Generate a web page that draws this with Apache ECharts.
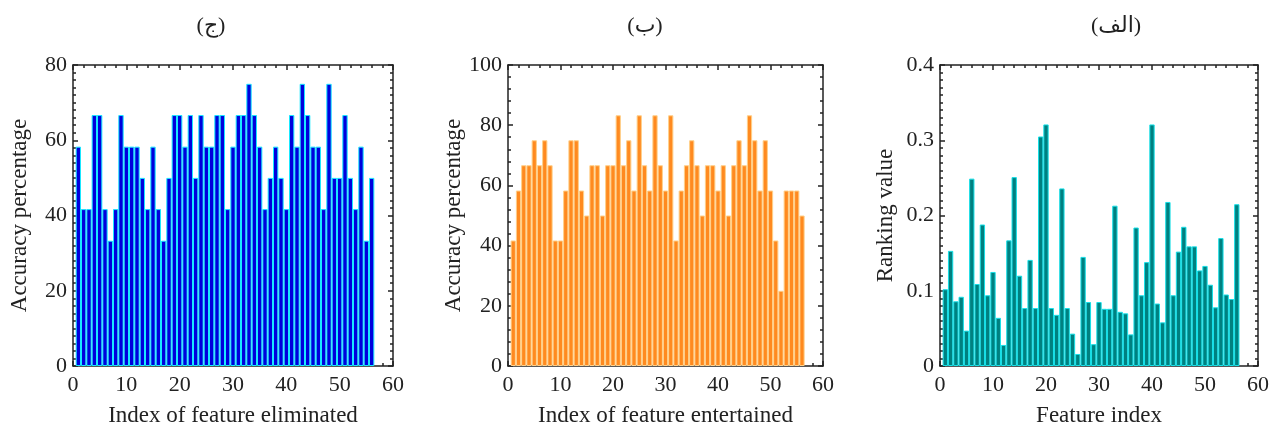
<!DOCTYPE html>
<html>
<head>
<meta charset="utf-8">
<script src="https://cdn.jsdelivr.net/npm/echarts@6/dist/echarts.min.js"></script>
<style>
html, body { margin: 0; padding: 0; background: #fff; }
#chart { width: 1272px; height: 432px; }
</style>
</head>
<body>
<div id="chart"></div>
<script>
// feature index 1..56 (shared by all three panels)
const featureIndex = [1,2,3,4,5,6,7,8,9,10,11,12,13,14,15,16,17,18,19,20,21,22,23,24,25,26,27,28,
  29,30,31,32,33,34,35,36,37,38,39,40,41,42,43,44,45,46,47,48,49,50,51,52,53,54,55,56];

// (ج) accuracy after eliminating each feature
const eliminatedAcc = [58.3,41.7,41.7,66.7,66.7,41.7,33.3,41.7,66.7,58.3,58.3,58.3,50,41.7,58.3,41.7,
  33.3,50,66.7,66.7,58.3,66.7,50,66.7,58.3,58.3,66.7,66.7,41.7,58.3,66.7,66.7,75,66.7,58.3,41.7,50,58.3,
  50,41.7,66.7,58.3,75,66.7,58.3,58.3,41.7,75,50,50,66.7,50,41.7,58.3,33.3,50];

// (ب) accuracy when each feature is entertained
const entertainedAcc = [41.7,58.3,66.7,66.7,75,66.7,75,66.7,41.7,41.7,58.3,75,75,58.3,50,66.7,66.7,50,
  66.7,66.7,83.3,66.7,75,58.3,83.3,66.7,58.3,83.3,66.7,58.3,83.3,41.7,58.3,66.7,75,66.7,50,66.7,66.7,
  58.3,66.7,50,66.7,75,66.7,83.3,75,58.3,75,58.3,41.7,25,58.3,58.3,58.3,50];

// (الف) ranking value of each feature
const rankingValue = [0.102,0.153,0.086,0.092,0.047,0.249,0.109,0.188,0.094,0.125,0.064,0.028,0.167,
  0.251,0.120,0.077,0.141,0.077,0.305,0.321,0.077,0.068,0.236,0.077,0.043,0.016,0.145,0.085,0.029,0.085,
  0.076,0.076,0.213,0.072,0.070,0.042,0.184,0.094,0.138,0.321,0.083,0.058,0.218,0.094,0.152,0.185,0.159,
  0.159,0.127,0.133,0.108,0.078,0.170,0.095,0.089,0.215];

const panelTitles = ['(ج)', '(ب)', '(الف)'];

const font = "'Liberation Serif', 'Times New Roman', 'DejaVu Sans', serif";
const ink = '#222';

function pairs(ys) {
  return featureIndex.map((x, i) => [x, ys[i]]);
}

function xAxes(g, name) {
  const base = {
    gridIndex: g, type: 'value', min: 0, max: 60, interval: 10,
    axisLine: { onZero: false, lineStyle: { color: ink, width: 1.5 } },
    axisTick: { inside: true, length: 5, lineStyle: { color: ink, width: 1.5 } },
    minorTick: { show: true, splitNumber: 5, length: 3, lineStyle: { color: ink, width: 1.5 } },
    splitLine: { show: false }
  };
  return [
    Object.assign({}, base, {
      position: 'bottom',
      axisLabel: { color: ink, fontSize: 22, fontFamily: font, margin: 8 },
      name: name, nameLocation: 'middle', nameGap: 38,
      nameTextStyle: { color: ink, fontSize: 23, fontFamily: font }
    }),
    Object.assign({}, base, { position: 'top', axisLabel: { show: false } })
  ];
}

function yAxes(g, max, interval, minorSplit, name, gap) {
  const base = {
    gridIndex: g, type: 'value', min: 0, max: max, interval: interval,
    axisLine: { onZero: false, lineStyle: { color: ink, width: 1.5 } },
    axisTick: { inside: true, length: 5, lineStyle: { color: ink, width: 1.5 } },
    minorTick: { show: true, splitNumber: minorSplit, length: 3, lineStyle: { color: ink, width: 1.5 } },
    splitLine: { show: false }
  };
  return [
    Object.assign({}, base, {
      position: 'left',
      axisLabel: { color: ink, fontSize: 22, fontFamily: font, margin: 6 },
      name: name, nameLocation: 'middle', nameGap: gap,
      nameTextStyle: { color: ink, fontSize: 23, fontFamily: font }
    }),
    Object.assign({}, base, { position: 'right', axisLabel: { show: false } })
  ];
}

const chart = echarts.init(document.getElementById('chart'));

chart.setOption({
  backgroundColor: '#fff',
  animation: false,
  title: [
    { text: panelTitles[0], left: 206, top: 10, textAlign: 'center' },
    { text: panelTitles[1], left: 640, top: 10, textAlign: 'center' },
    { text: panelTitles[2], left: 1111, top: 10, textAlign: 'center' }
  ].map(t => Object.assign(t, { textStyle: { color: ink, fontSize: 22, fontWeight: 'normal', fontFamily: font } })),
  grid: [
    { left: 73, top: 65, width: 320, height: 310 },
    { left: 508, top: 65, width: 315, height: 306 },
    { left: 940, top: 65, width: 319, height: 310 }
  ],
  xAxis: [].concat(
    xAxes(0, 'Index of feature eliminated'),
    xAxes(1, 'Index of feature entertained'),
    xAxes(2, 'Feature index')
  ),
  yAxis: [].concat(
    yAxes(0, 80, 20, 10, 'Accuracy percentage', 42),
    yAxes(1, 100, 20, 5, 'Accuracy percentage', 42),
    yAxes(2, 0.4, 0.1, 10, 'Ranking value', 43)
  ),
  series: [
    {
      type: 'bar', xAxisIndex: 0, yAxisIndex: 0, data: pairs(eliminatedAcc),
      barWidth: 5.33,
      itemStyle: { color: '#0000dd', borderColor: '#18e8ff', borderWidth: 1 }
    },
    {
      type: 'bar', xAxisIndex: 2, yAxisIndex: 2, data: pairs(entertainedAcc),
      barWidth: 5.25,
      itemStyle: { color: '#ff8a1f', borderColor: '#ffd08a', borderWidth: 1 }
    },
    {
      type: 'bar', xAxisIndex: 4, yAxisIndex: 4, data: pairs(rankingValue),
      barWidth: 5.32,
      itemStyle: { color: '#008080', borderColor: '#14e0e8', borderWidth: 1 }
    }
  ]
});
</script>
</body>
</html>
